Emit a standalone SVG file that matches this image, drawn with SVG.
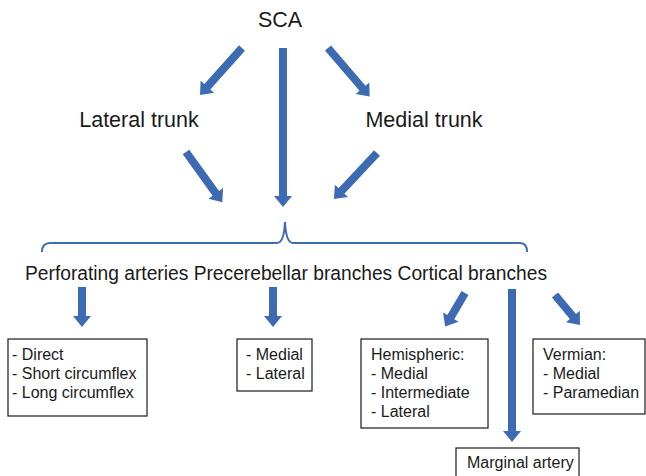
<svg xmlns="http://www.w3.org/2000/svg" width="646" height="476" viewBox="0 0 646 476">
  <style>
    .t { font-family: "Liberation Sans", Arial, sans-serif; fill: #1a1a1a; }
    .big { font-size: 21.5px; }
    .mid { font-size: 19.5px; }
    .sm { font-size: 16px; }
    .arrow { fill: #3D6BB3; }
    .box { fill: #ffffff; stroke: #1a1a1a; stroke-width: 1.2; }
    .brace { fill: none; stroke: #3D6BB3; stroke-width: 2; }
  </style>

  <!-- block arrows: drawn pointing along +y, then placed with translate/rotate -->
  <g id="connectors">
    <path class="arrow" transform="translate(242,48) rotate(41.8)" d="M-4,0 L4,0 L4,52 L9,52 L0,63 L-9,52 L-4,52 Z"/>
    <path class="arrow" transform="translate(283,48)" d="M-4,0 L4,0 L4,148 L9,148 L0,159 L-9,148 L-4,148 Z"/>
    <path class="arrow" transform="translate(328,48) rotate(-40.6)" d="M-4,0 L4,0 L4,53 L9,53 L0,64 L-9,53 L-4,53 Z"/>
    <path class="arrow" transform="translate(186,152) rotate(-35.8)" d="M-4,0 L4,0 L4,51 L9,51 L0,62 L-9,51 L-4,51 Z"/>
    <path class="arrow" transform="translate(377,153) rotate(43.1)" d="M-4,0 L4,0 L4,52 L9,52 L0,63 L-9,52 L-4,52 Z"/>
    <path class="brace" d="M42,252 Q42,243 50,243 L277,243 Q284,243 285,222 Q286,243 293,243 L520,243 Q527,243 527,252"/>
    <path class="arrow" transform="translate(82,287)" d="M-4,0 L4,0 L4,29 L9,29 L0,40 L-9,29 L-4,29 Z"/>
    <path class="arrow" transform="translate(273,287)" d="M-4,0 L4,0 L4,29 L9,29 L0,40 L-9,29 L-4,29 Z"/>
    <path class="arrow" transform="translate(465,293) rotate(30.5)" d="M-4,0 L4,0 L4,28 L9,28 L0,39 L-9,28 L-4,28 Z"/>
    <path class="arrow" transform="translate(512,289)" d="M-4,0 L4,0 L4,142 L9,142 L0,153 L-9,142 L-4,142 Z"/>
    <path class="arrow" transform="translate(555,295) rotate(-39.8)" d="M-4,0 L4,0 L4,28 L9,28 L0,39 L-9,28 L-4,28 Z"/>
  </g>

  <g id="sca">
    <text class="t big" x="280" y="27" text-anchor="middle">SCA</text>
  </g>
  <g id="lateral-trunk">
    <text class="t big" x="139" y="127" text-anchor="middle">Lateral trunk</text>
  </g>
  <g id="medial-trunk">
    <text class="t big" x="424" y="127" text-anchor="middle">Medial trunk</text>
  </g>

  <g id="branches">
    <text class="t mid" x="25" y="280" textLength="522" lengthAdjust="spacingAndGlyphs">Perforating arteries Precerebellar branches Cortical branches</text>
  </g>

  <g id="perforating-list">
    <rect class="box" x="8" y="339" width="139" height="77"/>
    <text class="t sm" x="12" y="360">- Direct</text>
    <text class="t sm" x="12" y="379">- Short circumflex</text>
    <text class="t sm" x="12" y="398">- Long circumflex</text>
  </g>

  <g id="precerebellar-list">
    <rect class="box" x="237" y="339" width="75" height="52"/>
    <text class="t sm" x="246" y="360">- Medial</text>
    <text class="t sm" x="246" y="379">- Lateral</text>
  </g>

  <g id="hemispheric">
    <rect class="box" x="361" y="339" width="127" height="89"/>
    <text class="t sm" x="371" y="360">Hemispheric:</text>
    <text class="t sm" x="371" y="379">- Medial</text>
    <text class="t sm" x="371" y="398">- Intermediate</text>
    <text class="t sm" x="371" y="417">- Lateral</text>
  </g>

  <g id="vermian">
    <rect class="box" x="533" y="339" width="112" height="75"/>
    <text class="t sm" x="543" y="360">Vermian:</text>
    <text class="t sm" x="543" y="379">- Medial</text>
    <text class="t sm" x="543" y="398">- Paramedian</text>
  </g>

  <g id="marginal-artery">
    <rect class="box" x="456" y="448" width="123" height="34"/>
    <text class="t sm" x="467" y="468">Marginal artery</text>
  </g>
</svg>
